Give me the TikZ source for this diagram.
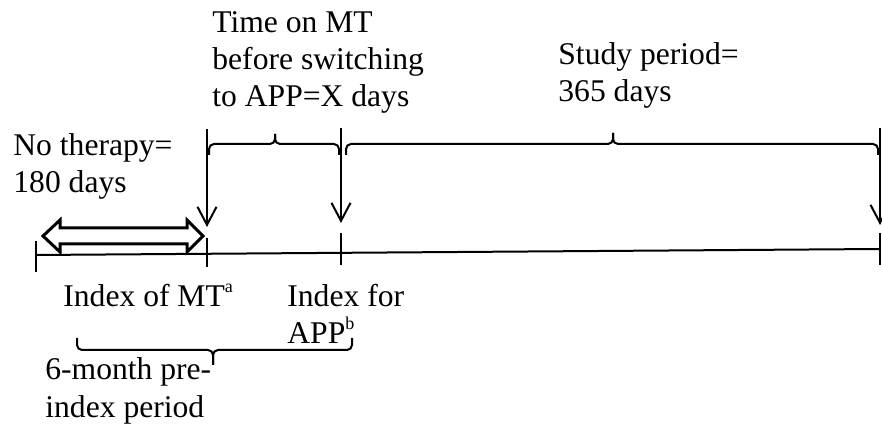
\documentclass[tikz,border=0pt]{standalone}
\usepackage{fontspec}
\setmainfont{Liberation Serif}
\usetikzlibrary{arrows.meta}
\newcommand{\supmark}[1]{\raisebox{0.45em}{\fontsize{9}{9}\selectfont #1}}
\begin{document}
\begin{tikzpicture}[x=0.5pt,y=-0.5pt,
  lbl/.style={anchor=base west, inner sep=0pt, align=left, font=\fontsize{15.8}{18.5}\selectfont},
  ln/.style={line width=1pt},
  brc/.style={line width=1pt, rounded corners=2.5pt},
  downarr/.style={line width=1pt, -{Straight Barb[length=9pt,width=9.5pt,line width=1pt]}},
  hollow/.style={line width=1.5pt, line join=miter}]
\useasboundingbox (0,0) rectangle (882,426);
% timeline
\coordinate (t0) at (36,255);
\coordinate (t1) at (207,253.8);
\coordinate (t2) at (341,252.8);
\coordinate (t3) at (880,249);
\draw[ln] (t0) -- (t3);
\draw[ln] (t0) ++(0,-14) -- ++(0,31);
\draw[ln] (t1) ++(0,-16) -- ++(0,29);
\draw[ln] (t2) ++(0,-20) -- ++(0,32);
\draw[ln] (t3) ++(0,-16) -- ++(0,32);
% down arrows
\coordinate (s1) at (207,129); \coordinate (e1) at (207,227);
\coordinate (s2) at (341,128); \coordinate (e2) at (341,223);
\coordinate (s3) at (880,128); \coordinate (e3) at (880,225);
\draw[downarr] (s1) -- (e1);
\draw[downarr] (s2) -- (e2);
\draw[downarr] (s3) -- (e3);
% top braces
\draw[brc] (209,155) -- (209,144) -- (275,144) -- (275,134);
\draw[brc] (339,155) -- (339,144) -- (275,144) -- (275,134);
\draw[brc] (346,155) -- (346,144) -- (613,144) -- (613,133);
\draw[brc] (878,155) -- (878,144) -- (613,144) -- (613,133);
% bottom brace
\draw[brc] (77,338) -- (77,350) -- (213,350) -- (213,365);
\draw[brc] (352,338) -- (352,350) -- (213,350) -- (213,365);
% hollow double arrow
\draw[hollow] (43,236) -- (60,220) -- (60,228) -- (187,228) -- (187,220) -- (203,236)
  -- (187,252) -- (187,244) -- (60,244) -- (60,252) -- cycle;
% labels (base anchor = baseline of last line)
\node[lbl] (time) at (212,107) {Time on MT\\before switching\\to APP=X days};
\node[lbl] (study) at (558,102) {Study period=\\365 days};
\node[lbl] (nother) at (13,193) {No therapy=\\180 days};
\node[lbl] (imt) at (63,307) {Index of MT\supmark{a}};
\node[lbl] (iapp) at (287,344) {Index for\\APP\supmark{b}};
\node[lbl] (pre) at (45,417) {6-month pre-\\index period};
\end{tikzpicture}
\end{document}
